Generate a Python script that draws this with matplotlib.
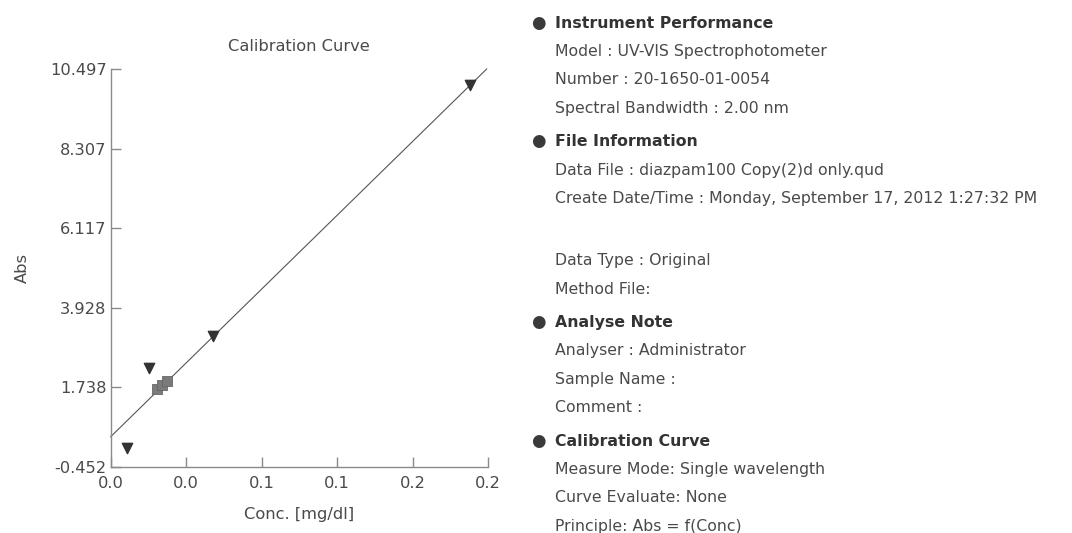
import matplotlib
matplotlib.use("Agg")
import matplotlib.pyplot as plt

# calibration data
tri_x = [0.0085, 0.0201, 0.0544, 0.1905]
tri_y = [0.071, 2.259, 3.149, 10.065]
sq_x = [0.0245, 0.0272, 0.0298]
sq_y = [1.689, 1.799, 1.909]
fit_x = [0.0, 0.1993]
fit_y = [0.374, 10.505]

xticks = [0.0, 0.04, 0.08, 0.12, 0.16, 0.2]
xlabels = ["0.0", "0.0", "0.1", "0.1", "0.2", "0.2"]
yticks = [-0.452, 1.738, 3.928, 6.117, 8.307, 10.497]

info = [
    ("Instrument Performance", ["Model : UV-VIS Spectrophotometer",
                                "Number : 20-1650-01-0054",
                                "Spectral Bandwidth : 2.00 nm"]),
    ("File Information", ["Data File : diazpam100 Copy(2)d only.qud",
                          "Create Date/Time : Monday, September 17, 2012 1:27:32 PM",
                          "",
                          "Data Type : Original",
                          "Method File:"]),
    ("Analyse Note", ["Analyser : Administrator",
                      "Sample Name :",
                      "Comment :"]),
    ("Calibration Curve", ["Measure Mode: Single wavelength",
                           "Curve Evaluate: None",
                           "Principle: Abs = f(Conc)"]),
]

W, H = 1072, 533
fig = plt.figure(figsize=(W / 100, H / 100), dpi=100)
ax = fig.add_axes([110.7 / W, 1 - 466.7 / H, (488 - 110.7) / W, (466.7 - 69.3) / H])

ax.plot(fit_x, fit_y, color="#555555", lw=0.8, clip_on=False, zorder=2)
ax.scatter(sq_x, sq_y, marker="s", s=48, facecolor="#7a7a7a",
           edgecolor="#666666", linewidth=0.6, zorder=3)
ax.scatter(tri_x, tri_y, marker="v", s=55, color="#333333", zorder=4,
           clip_on=False)

ax.set_xlim(0, 0.2)
ax.set_ylim(-0.452, 10.497)
ax.set_xticks(xticks, xlabels)
ax.set_yticks(yticks, [f"{v:.3f}" for v in yticks])
for s in ["top", "right"]:
    ax.spines[s].set_visible(False)
for s in ["left", "bottom"]:
    ax.spines[s].set_color("#8a8a8a")
    ax.spines[s].set_linewidth(1.0)
ax.tick_params(direction="in", length=7, width=1.0, color="#8a8a8a",
               labelsize=11.7, labelcolor="#4a4a4a")
ax.tick_params(axis="x", pad=7)
ax.tick_params(axis="y", pad=3)
ax.set_title("Calibration Curve", fontsize=11.7, color="#4a4a4a", pad=13)
ax.set_xlabel("Conc. [mg/dl]", fontsize=11.7, color="#4a4a4a", labelpad=11)
fig.text(22 / W, 1 - 268 / H, "Abs", rotation=90, fontsize=11.7,
         color="#4a4a4a", ha="center", va="center")

# info panel on the right
y = 23.5
for head, lines in info:
    fig.text(538 / W, 1 - (y - 1) / H, "\u25cf", fontsize=12, color="#3a3a3a",
             ha="center", va="center")
    fig.text(555 / W, 1 - y / H, head, fontsize=11.3, fontweight="bold",
             color="#333333", va="center")
    y += 28
    for ln in lines:
        if ln:
            fig.text(555 / W, 1 - y / H, ln, fontsize=11.3, color="#4a4a4a",
                     va="center")
            y += 28.5
        else:
            y += 34
    y += 5

fig.savefig("out.png", dpi=100)
